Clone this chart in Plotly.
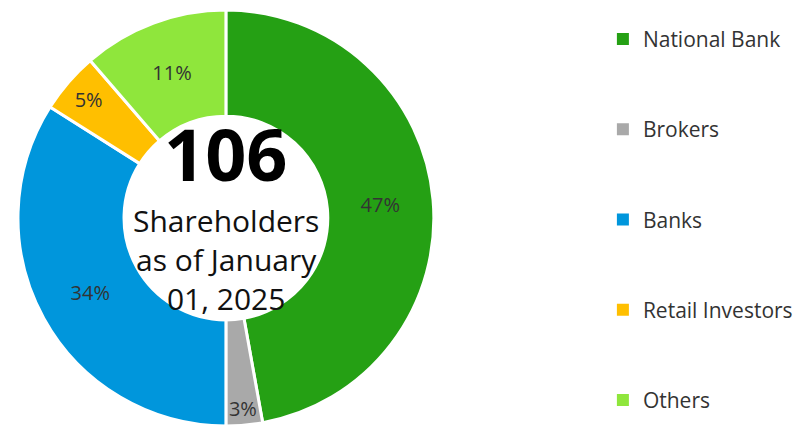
import plotly.graph_objects as go

# shareholder structure, counts of shareholders per group
groups = ["National Bank", "Brokers", "Banks", "Retail Investors", "Others"]
counts = [50, 3, 36, 5, 12]
colors = ["#25a014", "#a9a9a9", "#0096dc", "#ffbf00", "#8fe63c"]

total_label = "106"
subtitle = "Shareholders<br>as of January<br>01, 2025"

fig = go.Figure()

fig.add_trace(
    go.Pie(
        labels=groups,
        values=counts,
        hole=0.49,
        sort=False,
        direction="clockwise",
        rotation=0,
        marker=dict(colors=colors, line=dict(color="white", width=3)),
        texttemplate="%{percent:.0%}",
        textposition="inside",
        insidetextorientation="horizontal",
        textfont=dict(family="Open Sans", size=20, color="#333333"),
        showlegend=False,
        hoverinfo="label+value+percent",
        domain=dict(x=[0.0124, 0.529], y=[0.0279, 0.9953]),
    )
)

# legend entries (square markers, widely spaced)
for name, col in zip(groups, colors):
    fig.add_trace(
        go.Scatter(
            x=[None],
            y=[None],
            mode="markers",
            name=name,
            legendgroup=name,
            marker=dict(symbol="square", size=12, color=col),
        )
    )

fig.add_annotation(
    text="<b>" + total_label + "</b>",
    x=0.2708, y=0.662, xref="paper", yref="paper",
    xanchor="center", yanchor="middle",
    height=84,
    showarrow=False,
    font=dict(family="Open Sans", size=72, color="#000000"),
)
fig.add_annotation(
    text=subtitle,
    x=0.2708, y=0.416, xref="paper", yref="paper",
    xanchor="center", yanchor="middle",
    showarrow=False,
    font=dict(family="Open Sans", size=30, color="#111111"),
)

fig.update_layout(
    width=805,
    height=430,
    margin=dict(l=0, r=0, t=0, b=0, autoexpand=False),
    paper_bgcolor="white",
    plot_bgcolor="white",
    xaxis=dict(visible=False),
    yaxis=dict(visible=False),
    uniformtext=dict(minsize=20, mode="show"),
    legend=dict(
        x=0.739, y=0.975, xanchor="left", yanchor="top",
        font=dict(family="Open Sans", size=21, color="#333333"),
        tracegroupgap=60,
        bgcolor="rgba(0,0,0,0)",
    ),
)

fig.write_html("out.html")
